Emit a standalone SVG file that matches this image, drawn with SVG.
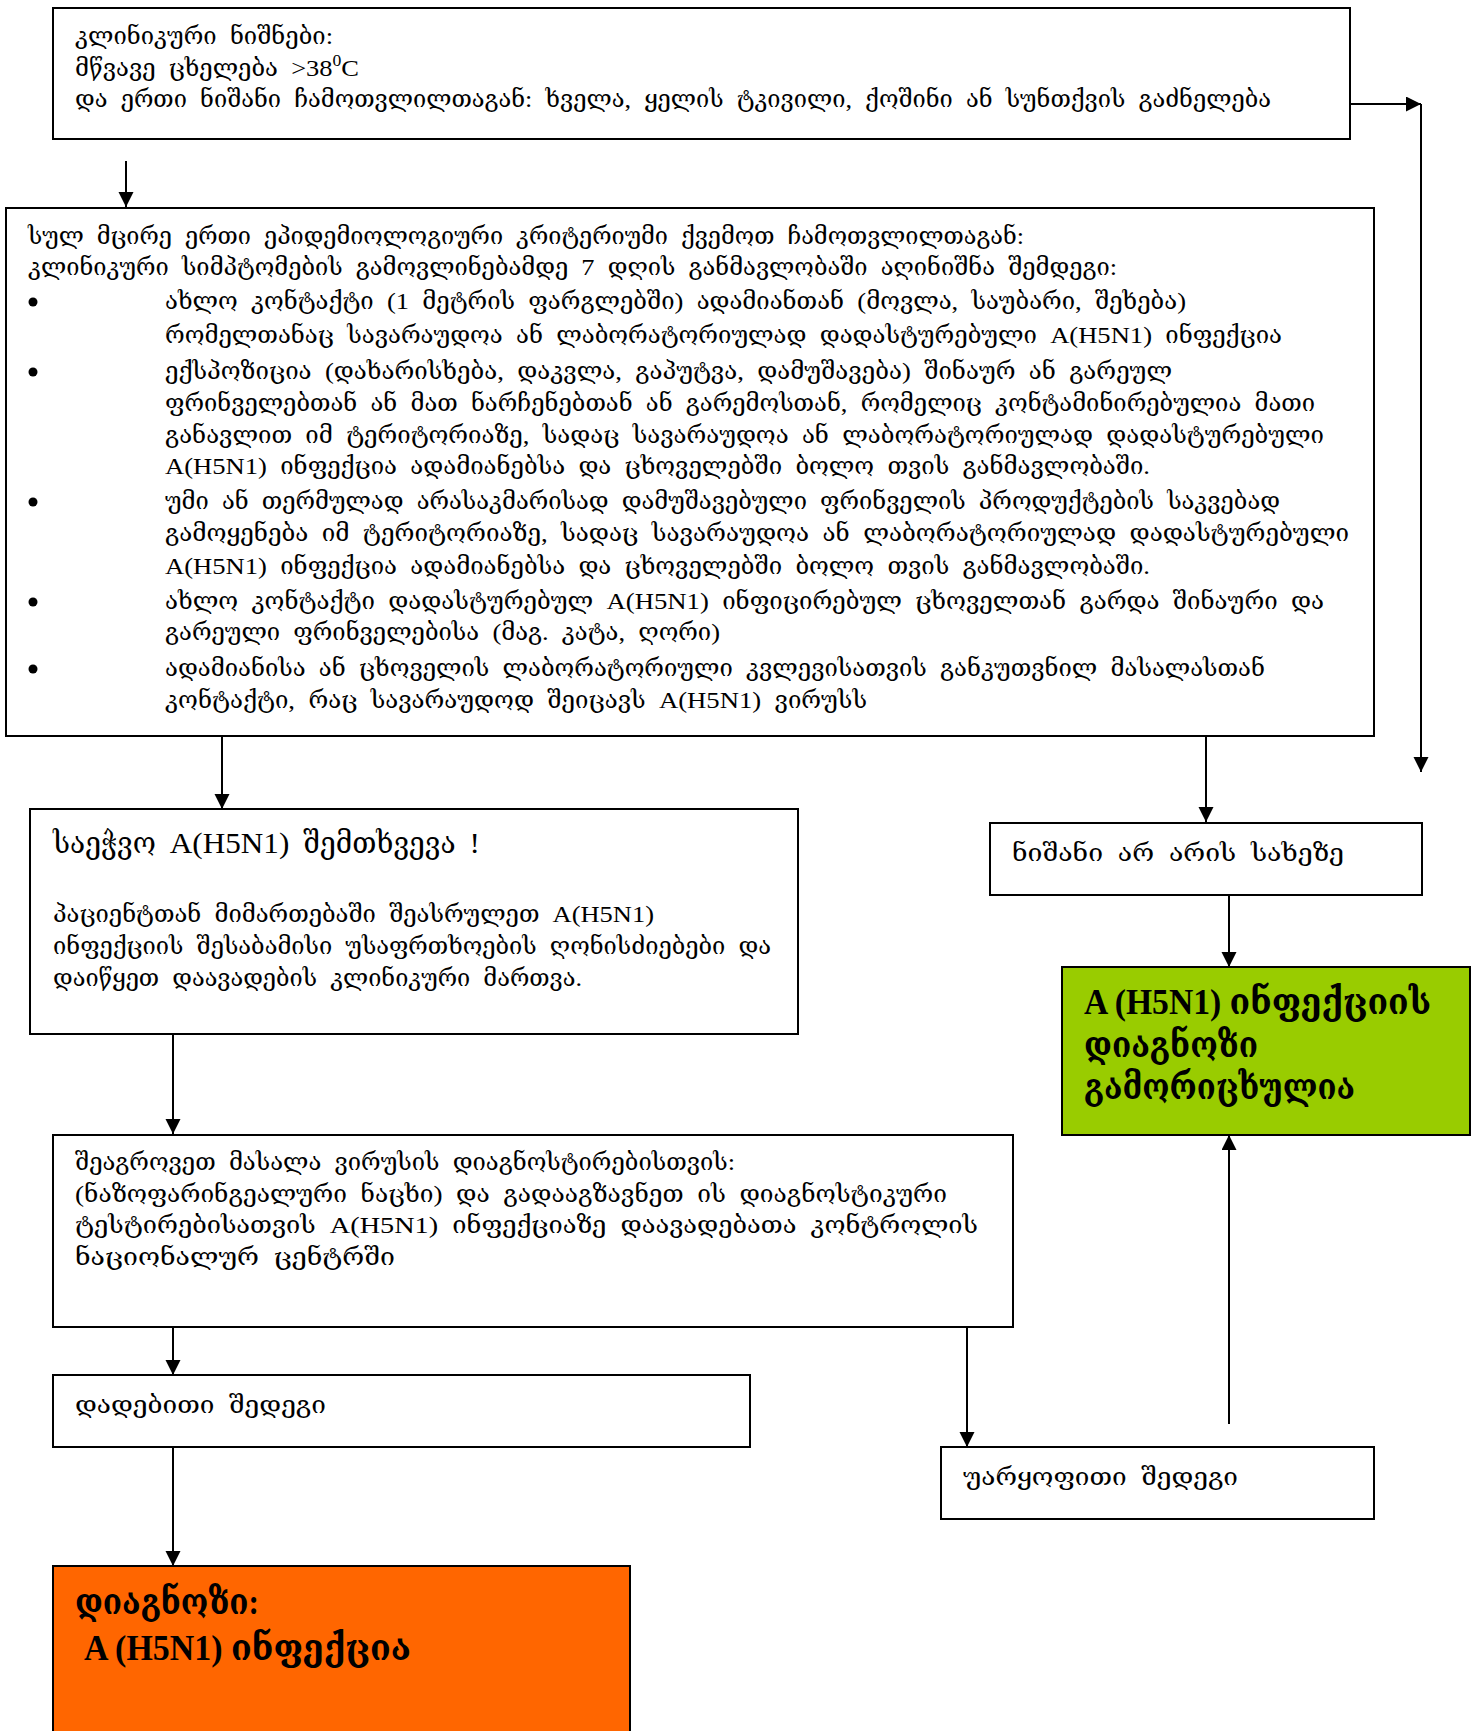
<svg xmlns="http://www.w3.org/2000/svg" width="1481" height="1731" viewBox="0 0 1481 1731">
<style>
.box{fill:#fff;stroke:#000;stroke-width:2}
.t{font-family:"Liberation Serif","DejaVu Serif","DejaVu Sans",serif;font-size:24px;font-stretch:condensed;word-spacing:6px;fill:#000}
.ti{font-size:30px}
.b{font-weight:bold;font-size:36px;font-stretch:normal;word-spacing:0}
.c{fill:none;stroke:#000;stroke-width:2}
.dot{fill:#000}
</style>
<defs>
<marker id="ah" markerUnits="userSpaceOnUse" markerWidth="16" markerHeight="16" refX="15" refY="7.5" orient="auto"><path d="M0,0 L15,7.5 L0,15 z" fill="#000"/></marker>
</defs>

<g id="connectors">
<path class="c" d="M126,161 V207" marker-end="url(#ah)"/>
<path class="c" d="M1350,104 H1421" marker-end="url(#ah)"/>
<path class="c" d="M1421,104 V772" marker-end="url(#ah)"/>
<path class="c" d="M222,736 V809" marker-end="url(#ah)"/>
<path class="c" d="M1206,736 V822" marker-end="url(#ah)"/>
<path class="c" d="M1229,894 V967" marker-end="url(#ah)"/>
<path class="c" d="M173,1034 V1134" marker-end="url(#ah)"/>
<path class="c" d="M173,1326 V1375" marker-end="url(#ah)"/>
<path class="c" d="M173,1447 V1566" marker-end="url(#ah)"/>
<path class="c" d="M967,1326 V1447" marker-end="url(#ah)"/>
<path class="c" d="M1229,1424 V1135" marker-end="url(#ah)"/>
</g>

<g id="n1">
<rect class="box" x="53" y="8" width="1297" height="131"/>
<text class="t" x="75" y="44" textLength="258" lengthAdjust="spacingAndGlyphs">კლინიკური ნიშნები:</text>
<text class="t" x="75" y="76" textLength="284" lengthAdjust="spacingAndGlyphs">მწვავე ცხელება &gt;38<tspan font-size="16" dy="-10">0</tspan><tspan dy="10">C</tspan></text>
<text class="t" x="75" y="107" textLength="1196" lengthAdjust="spacingAndGlyphs">და ერთი ნიშანი ჩამოთვლილთაგან: ხველა, ყელის ტკივილი, ქოშინი ან სუნთქვის გაძნელება</text>
</g>

<g id="n2">
<rect class="box" x="6" y="208" width="1368" height="528"/>
<text class="t" x="28" y="244" textLength="996" lengthAdjust="spacingAndGlyphs">სულ მცირე ერთი ეპიდემიოლოგიური კრიტერიუმი ქვემოთ ჩამოთვლილთაგან:</text>
<text class="t" x="28" y="275" textLength="1089" lengthAdjust="spacingAndGlyphs">კლინიკური სიმპტომების გამოვლინებამდე 7 დღის განმავლობაში აღინიშნა შემდეგი:</text>
<circle class="dot" cx="33" cy="302" r="4.5"/>
<text class="t" x="165" y="309" textLength="1021" lengthAdjust="spacingAndGlyphs">ახლო კონტაქტი (1 მეტრის ფარგლებში) ადამიანთან (მოვლა, საუბარი, შეხება)</text>
<text class="t" x="165" y="343" textLength="1117" lengthAdjust="spacingAndGlyphs">რომელთანაც სავარაუდოა ან ლაბორატორიულად დადასტურებული A(H5N1) ინფექცია</text>
<circle class="dot" cx="33" cy="372" r="4.5"/>
<text class="t" x="165" y="379" textLength="1007" lengthAdjust="spacingAndGlyphs">ექსპოზიცია (დახარისხება, დაკვლა, გაპუტვა, დამუშავება) შინაურ ან გარეულ</text>
<text class="t" x="165" y="411" textLength="1150" lengthAdjust="spacingAndGlyphs">ფრინველებთან ან მათ ნარჩენებთან ან გარემოსთან, რომელიც  კონტამინირებულია მათი</text>
<text class="t" x="165" y="443" textLength="1159" lengthAdjust="spacingAndGlyphs">განავლით იმ ტერიტორიაზე, სადაც სავარაუდოა ან ლაბორატორიულად დადასტურებული</text>
<text class="t" x="165" y="474" textLength="985" lengthAdjust="spacingAndGlyphs">A(H5N1) ინფექცია ადამიანებსა და ცხოველებში ბოლო თვის განმავლობაში.</text>
<circle class="dot" cx="33" cy="502" r="4.5"/>
<text class="t" x="165" y="509" textLength="1115" lengthAdjust="spacingAndGlyphs">უმი ან თერმულად არასაკმარისად დამუშავებული ფრინველის პროდუქტების საკვებად</text>
<text class="t" x="165" y="541" textLength="1184" lengthAdjust="spacingAndGlyphs">გამოყენება იმ ტერიტორიაზე, სადაც  სავარაუდოა ან ლაბორატორიულად დადასტურებული</text>
<text class="t" x="165" y="574" textLength="985" lengthAdjust="spacingAndGlyphs">A(H5N1) ინფექცია ადამიანებსა და ცხოველებში ბოლო თვის განმავლობაში.</text>
<circle class="dot" cx="33" cy="602" r="4.5"/>
<text class="t" x="165" y="609" textLength="1159" lengthAdjust="spacingAndGlyphs">ახლო კონტაქტი დადასტურებულ A(H5N1) ინფიცირებულ ცხოველთან გარდა შინაური და</text>
<text class="t" x="165" y="640" textLength="555" lengthAdjust="spacingAndGlyphs">გარეული ფრინველებისა (მაგ. კატა, ღორი)</text>
<circle class="dot" cx="33" cy="669" r="4.5"/>
<text class="t" x="165" y="676" textLength="1100" lengthAdjust="spacingAndGlyphs">ადამიანისა ან ცხოველის ლაბორატორიული კვლევისათვის განკუთვნილ მასალასთან</text>
<text class="t" x="165" y="708" textLength="702" lengthAdjust="spacingAndGlyphs">კონტაქტი, რაც სავარაუდოდ შეიცავს A(H5N1) ვირუსს</text>
</g>

<g id="n3">
<rect class="box" x="30" y="809" width="768" height="225"/>
<text class="t ti" x="53" y="853" textLength="427" lengthAdjust="spacingAndGlyphs">საეჭვო A(H5N1) შემთხვევა !</text>
<text class="t" x="53" y="922" textLength="601" lengthAdjust="spacingAndGlyphs">პაციენტთან მიმართებაში შეასრულეთ A(H5N1)</text>
<text class="t" x="53" y="954" textLength="718" lengthAdjust="spacingAndGlyphs">ინფექციის შესაბამისი უსაფრთხოების ღონისძიებები და</text>
<text class="t" x="53" y="986" textLength="529" lengthAdjust="spacingAndGlyphs">დაიწყეთ დაავადების კლინიკური მართვა.</text>
</g>

<g id="n4">
<rect class="box" x="990" y="823" width="432" height="72"/>
<text class="t" x="1012" y="861" textLength="332" lengthAdjust="spacingAndGlyphs">ნიშანი არ არის სახეზე</text>
</g>

<g id="n5">
<rect x="1062" y="967" width="408" height="168" fill="#99CC00" stroke="#000" stroke-width="2"/>
<text class="t b" x="1084" y="1014" textLength="347" lengthAdjust="spacingAndGlyphs">A (H5N1) ინფექციის</text>
<text class="t b" x="1084" y="1057" textLength="174" lengthAdjust="spacingAndGlyphs">დიაგნოზი</text>
<text class="t b" x="1084" y="1099" textLength="271" lengthAdjust="spacingAndGlyphs">გამორიცხულია</text>
</g>

<g id="n6">
<rect class="box" x="53" y="1135" width="960" height="192"/>
<text class="t" x="75" y="1170" textLength="660" lengthAdjust="spacingAndGlyphs">შეაგროვეთ მასალა ვირუსის დიაგნოსტირებისთვის:</text>
<text class="t" x="75" y="1202" textLength="872" lengthAdjust="spacingAndGlyphs">(ნაზოფარინგეალური ნაცხი) და გადააგზავნეთ ის  დიაგნოსტიკური</text>
<text class="t" x="75" y="1233" textLength="903" lengthAdjust="spacingAndGlyphs">ტესტირებისათვის A(H5N1) ინფექციაზე დაავადებათა კონტროლის</text>
<text class="t" x="75" y="1265" textLength="320" lengthAdjust="spacingAndGlyphs">ნაციონალურ ცენტრში</text>
</g>

<g id="n7">
<rect class="box" x="53" y="1375" width="697" height="72"/>
<text class="t" x="75" y="1413" textLength="251" lengthAdjust="spacingAndGlyphs">დადებითი შედეგი</text>
</g>

<g id="n8">
<rect class="box" x="941" y="1447" width="433" height="72"/>
<text class="t" x="963" y="1485" textLength="275" lengthAdjust="spacingAndGlyphs">უარყოფითი შედეგი</text>
</g>

<g id="n9">
<rect x="53" y="1566" width="577" height="175" fill="#FF6600" stroke="#000" stroke-width="2"/>
<text class="t b" x="75" y="1614" textLength="184" lengthAdjust="spacingAndGlyphs">დიაგნოზი:</text>
<text class="t b" x="84" y="1660" textLength="327" lengthAdjust="spacingAndGlyphs">A (H5N1) ინფექცია</text>
</g>
</svg>
